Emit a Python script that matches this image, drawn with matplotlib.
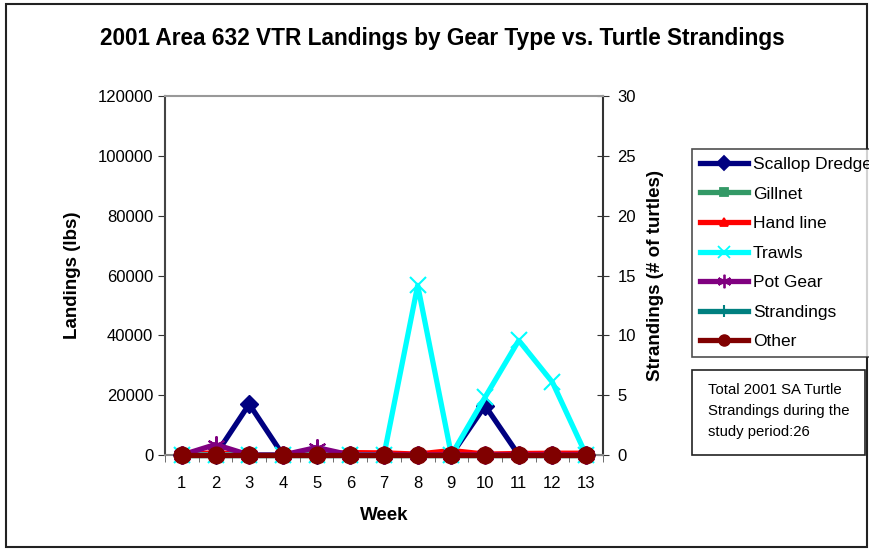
import matplotlib
matplotlib.use("Agg")
import matplotlib.pyplot as plt
from matplotlib.patches import Rectangle
from matplotlib.lines import Line2D

plt.rcParams['font.family'] = ['Liberation Sans', 'DejaVu Sans']

weeks = [str(i) for i in range(1, 14)]
scallop_dredge = [0, 0, 17000, 0, 0, 0, 0, 0, 0, 16500, 0, 0, 0]
gillnet = [0, 0, 0, 0, 0, 0, 0, 0, 0, 0, 0, 0, 0]
hand_line = [0, 800, 0, 0, 300, 800, 700, 300, 1500, 300, 500, 600, 600]
trawls = [0, 0, 0, 0, 0, 0, 0, 56700, 0, 19300, 38300, 24300, 0]
pot_gear = [0, 3500, 0, 0, 2500, 0, 0, 0, 0, 0, 0, 0, 0]
other = [0, 0, 0, 0, 0, 0, 0, 0, 0, 0, 0, 0, 0]
strandings = [0, 0, 0, 0, 0, 0, 0, 0, 0, 0, 0, 0, 0]

left_ticks = [0, 20000, 40000, 60000, 80000, 100000, 120000]
right_ticks = [0, 5, 10, 15, 20, 25, 30]

W, H = 869, 550
fig = plt.figure(figsize=(W / 100, H / 100), dpi=100)
fig.patches.append(Rectangle((6 / W, 3 / H), 861 / W, 543 / H, transform=fig.transFigure,
                             fill=False, edgecolor='#222222', linewidth=1.5))

ax = fig.add_axes([165 / W, (H - 455) / H, (603 - 165) / W, (455 - 96) / H])
x = list(range(1, 14))

series = [
    ("Scallop Dredge", scallop_dredge, '#000080', 'D', 9),
    ("Gillnet", gillnet, '#339966', 's', 7),
    ("Hand line", hand_line, '#FF0000', '^', 7),
    ("Trawls", trawls, '#00FFFF', 'x', 11),
    ("Pot Gear", pot_gear, '#800080', (6, 2, 0), 13),
]
handles = []
for name, vals, col, mk, ms in series:
    ax.plot(x, vals, color=col, linewidth=3.8, marker=mk, markersize=ms,
            markeredgewidth=1.5 if mk in ('x', (6, 2, 0)) else 1, markeredgecolor=col,
            markerfacecolor=col, zorder=3, clip_on=False)
    handles.append(Line2D([], [], color=col, linewidth=3.8, marker=mk,
                          markersize=ms * 0.75, markeredgecolor=col, markerfacecolor=col,
                          markeredgewidth=1.3))

ax.plot(x, other, color='#800000', linewidth=3.8, marker='o', markersize=12,
        markeredgecolor='#800000', markerfacecolor='#800000', zorder=5, clip_on=False)

ax.set_xlim(0.5, 13.5)
ax.set_ylim(0, 120000)
ax.set_xticks(x)
ax.set_xticklabels(weeks)
ax.set_xticks([i + 0.5 for i in range(0, 14)], minor=True)
ax.set_yticks(left_ticks)
ax.set_yticklabels([str(t) for t in left_ticks])
ax.tick_params(axis='x', which='major', length=0, pad=15, labelsize=12)
ax.tick_params(axis='x', which='minor', length=5, direction='out', color='#555555')
ax.tick_params(axis='y', length=5, direction='out', labelsize=12, color='#333333')

ax.spines['top'].set_color('#999999')
ax.spines['bottom'].set_color('#888888')
ax.spines['left'].set_color('#444444')
ax.spines['right'].set_visible(False)
for s in ax.spines.values():
    s.set_linewidth(1.5)

ax2 = ax.twinx()
ax2.set_ylim(0, 30)
ax2.set_yticks(right_ticks)
ax2.set_yticklabels([str(t) for t in right_ticks])
ax2.plot(x, strandings, color='#008080', linewidth=3.8, marker='|', markersize=10,
         zorder=2, clip_on=False)
ax2.tick_params(axis='y', length=9, direction='inout', labelsize=12, color='#333333', pad=6)
for k in ('top', 'bottom', 'left'):
    ax2.spines[k].set_visible(False)
ax2.spines['right'].set_color('#333333')
ax2.spines['right'].set_linewidth(1.5)
ax.set_zorder(ax2.get_zorder() + 1)
ax.patch.set_visible(False)

handles.insert(5, Line2D([], [], color='#008080', linewidth=3.8, marker='|', markersize=9,
                         markeredgewidth=1.5))
handles.append(Line2D([], [], color='#800000', linewidth=3.8, marker='o', markersize=8))
labels = ["Scallop Dredge", "Gillnet", "Hand line", "Trawls", "Pot Gear", "Strandings", "Other"]

ax.set_xlabel("Week", fontsize=13.5, fontweight='bold', labelpad=12)
ax.set_ylabel("Landings (lbs)", fontsize=13.5, fontweight='bold', labelpad=12)
ax2.set_ylabel("Strandings (# of turtles)", fontsize=13.5, fontweight='bold', labelpad=8)

fig.text(442 / W, 1 - 38 / H, "2001 Area 632 VTR Landings by Gear Type vs. Turtle Strandings",
         ha='center', va='center', fontsize=16.3, fontweight='bold')

leg = fig.legend(handles, labels, loc='upper left', bbox_to_anchor=(692 / W, 1 - 149 / H),
                 bbox_transform=fig.transFigure, frameon=True, fancybox=False,
                 fontsize=12.5, handlelength=2.8, handletextpad=0.25, labelspacing=0.83,
                 borderpad=0.45, borderaxespad=0, edgecolor='#222222')
leg.get_frame().set_linewidth(1.2)

fig.patches.append(Rectangle((692 / W, (H - 455) / H), 173 / W, 85 / H,
                             transform=fig.transFigure, fill=False,
                             edgecolor='#222222', linewidth=1.2))
fig.text(708 / W, 1 - 411 / H, "Total 2001 SA Turtle\nStrandings during the\nstudy period:26",
         ha='left', va='center', fontsize=10.7, linespacing=1.62)

fig.savefig("out.png", dpi=100)
